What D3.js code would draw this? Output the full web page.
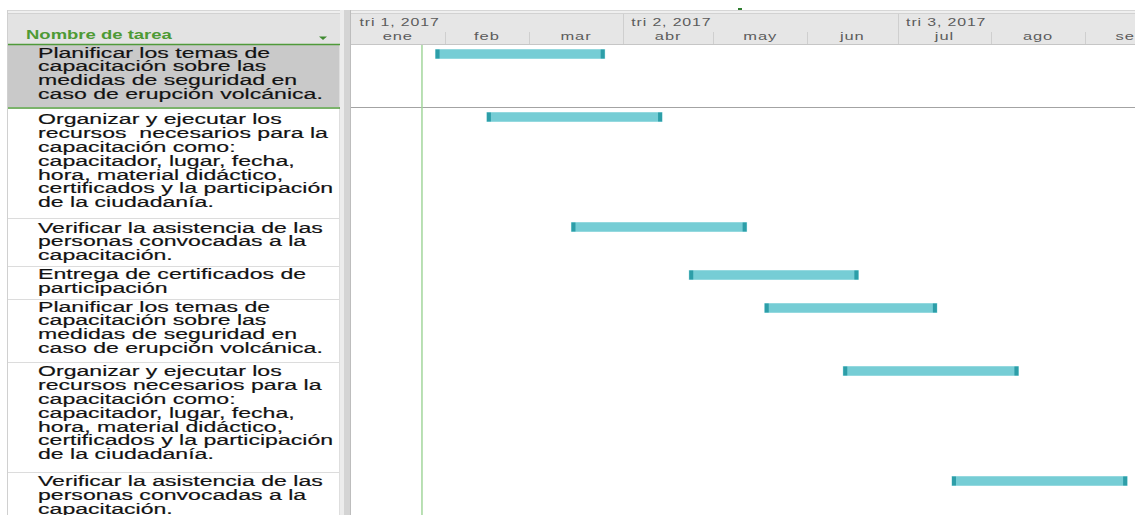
<!DOCTYPE html>
<html>
<head>
<meta charset="utf-8">
<script src="https://cdn.jsdelivr.net/npm/d3@7"></script>
<style>
  html, body { margin: 0; padding: 0; background: #fff; overflow: hidden; }
  svg { display: block; }
</style>
</head>
<body>
<svg id="gantt" width="1135" height="515"></svg>
<script>
// ---- Data -------------------------------------------------------------
const taskNames = [
  ["Planificar los temas de", "capacitación sobre las", "medidas de seguridad en", "caso de erupción volcánica."],
  ["Organizar y ejecutar los", "recursos  necesarios para la", "capacitación como:", "capacitador, lugar, fecha,", "hora, material didáctico,", "certificados y la participación", "de la ciudadanía."],
  ["Verificar la asistencia de las", "personas convocadas a la", "capacitación."],
  ["Entrega de certificados de", "participación"],
  ["Planificar los temas de", "capacitación sobre las", "medidas de seguridad en", "caso de erupción volcánica."],
  ["Organizar y ejecutar los", "recursos necesarios para la", "capacitación como:", "capacitador, lugar, fecha,", "hora, material didáctico,", "certificados y la participación", "de la ciudadanía."],
  ["Verificar la asistencia de las", "personas convocadas a la", "capacitación."]
];
const taskStarts = ["2017-01-29", "2017-02-15", "2017-03-15", "2017-04-23", "2017-05-18", "2017-06-13", "2017-07-19"];
const taskEnds   = ["2017-03-26", "2017-04-14", "2017-05-12", "2017-06-18", "2017-07-14", "2017-08-10", "2017-09-15"];
const monthLabels = ["ene", "feb", "mar", "abr", "may", "jun", "jul", "ago", "sep"];
const quarterLabels = ["tri 1, 2017", "tri 2, 2017", "tri 3, 2017"];
const headerTitle = "Nombre de tarea";
const todayDate = "2017-01-24T12:00:00Z";

// ---- Layout -----------------------------------------------------------
const W = 1135, H = 515;
const panelLeft = 8, panelRight = 341, chartLeft = 351;
const headerTop = 14, headerBottom = 44.5;
const rowHeights = [63, 110, 48, 33, 63, 110, 60];
const firstBaseline = [12.5, 16, 14.5, 13, 12.5, 14, 14];
const lineStep = 13.9;
const textScaleX = 1.49;
const pxPerDay = 3.02;

const rowTops = [];
rowHeights.reduce((acc, h) => { rowTops.push(acc); return acc + h; }, 45);

const parse = s => new Date(s.length > 10 ? s : s + "T00:00:00Z");
const t0 = parse("2017-01-01"), t1 = parse("2017-10-01");
const x = d3.scaleUtc()
  .domain([t0, t1])
  .range([chartLeft, chartLeft + d3.utcDay.count(t0, t1) * pxPerDay]);

const svg = d3.select("#gantt");

// ---- Frame: top strip and header backgrounds ---------------------------
svg.append("rect").attr("x", panelLeft).attr("y", 10).attr("width", W - panelLeft).attr("height", 4).attr("fill", "#efefef");
svg.append("line").attr("x1", panelLeft).attr("x2", W).attr("y1", 10.5).attr("y2", 10.5).attr("stroke", "#d6d6d6");
svg.append("line").attr("x1", panelLeft).attr("x2", W).attr("y1", 13.5).attr("y2", 13.5).attr("stroke", "#d2d2d2");
svg.append("rect").attr("x", 738).attr("y", 8).attr("width", 4).attr("height", 2).attr("fill", "#2f7d2f");

svg.append("rect").attr("x", panelLeft).attr("y", headerTop).attr("width", panelRight - panelLeft).attr("height", 30).attr("fill", "#e3e3e3");
svg.append("rect").attr("x", chartLeft).attr("y", headerTop).attr("width", W - chartLeft).attr("height", 30).attr("fill", "#e6e6e6");
svg.append("line").attr("x1", chartLeft).attr("x2", W).attr("y1", headerBottom).attr("y2", headerBottom).attr("stroke", "#c6c6c6");

// ---- Left task table --------------------------------------------------
svg.append("rect").attr("x", panelLeft).attr("y", rowTops[0]).attr("width", panelRight - panelLeft).attr("height", rowHeights[0] - 1).attr("fill", "#c9c9c9");

// row separators
svg.append("g").selectAll("line")
  .data(rowTops.slice(2))
  .join("line")
  .attr("x1", panelLeft).attr("x2", 344)
  .attr("y1", d => d + 0.5).attr("y2", d => d + 0.5)
  .attr("stroke", "#dcdcdc");

svg.append("line").attr("x1", 339.5).attr("x2", 339.5).attr("y1", 45).attr("y2", H).attr("stroke", "#dedede");
svg.append("line").attr("x1", 7.5).attr("x2", 7.5).attr("y1", 10).attr("y2", H).attr("stroke", "#d0d0d0");

// green header and selection borders
svg.append("line").attr("x1", panelLeft).attr("x2", 343).attr("y1", 44.5).attr("y2", 44.5).attr("stroke", "#4f9a3a").attr("stroke-width", 1.5);
svg.append("line").attr("x1", panelLeft).attr("x2", 343).attr("y1", rowTops[1]).attr("y2", rowTops[1]).attr("stroke", "#4f9a3a").attr("stroke-width", 1.5);

// splitter between table and timeline
svg.append("rect").attr("x", 340).attr("y", 10).attr("width", 4).attr("height", H - 10).attr("fill", "#ececec");
svg.append("rect").attr("x", 344).attr("y", 10).attr("width", 6).attr("height", H - 10).attr("fill", "#d4d4d4");
svg.append("line").attr("x1", 350.5).attr("x2", 350.5).attr("y1", 10).attr("y2", H).attr("stroke", "#bdbdbd");

// header title
svg.append("text")
  .attr("transform", `translate(26,38.5) scale(1.445,1)`)
  .attr("font-family", "'Liberation Sans', Arial, sans-serif")
  .attr("font-size", 12.8).attr("font-weight", "bold")
  .attr("fill", "#4e9a35")
  .text(headerTitle);
svg.append("path").attr("d", "M319,36.5 L327,36.5 L323,40 Z").attr("fill", "#3f8a30");

// task labels
const labels = svg.append("g")
  .attr("font-family", "'Liberation Sans', Arial, sans-serif")
  .attr("font-size", 15.5)
  .attr("fill", "#111")
  .attr("stroke", "#222")
  .attr("stroke-width", 0.2);
labels.selectAll("text")
  .data(taskNames)
  .join("text")
  .attr("transform", (d, i) => `translate(38,${rowTops[i] + firstBaseline[i]}) scale(${textScaleX},1)`)
  .selectAll("tspan")
  .data(d => d)
  .join("tspan")
  .attr("x", 0)
  .attr("y", (d, j) => j * lineStep)
  .style("white-space", "pre")
  .text(d => d);

// ---- Timeline header --------------------------------------------------
const months = d3.utcMonth.range(t0, t1);
const quarters = d3.utcMonth.every(3).range(t0, d3.utcMonth.offset(t1, -1));
const headG = svg.append("g")
  .attr("font-family", "'Liberation Sans', Arial, sans-serif")
  .attr("font-size", 11)
  .attr("fill", "#5c5c5c")
  .attr("letter-spacing", 0.6);

headG.selectAll("line.m")
  .data(months.slice(1))
  .join("line")
  .attr("class", "m")
  .attr("x1", d => Math.round(x(d)) + 0.5).attr("x2", d => Math.round(x(d)) + 0.5)
  .attr("y1", 32).attr("y2", 44)
  .attr("stroke", "#cfcfcf");

headG.selectAll("line.q")
  .data(quarters.slice(1))
  .join("line")
  .attr("class", "q")
  .attr("x1", d => Math.round(x(d)) + 0.5).attr("x2", d => Math.round(x(d)) + 0.5)
  .attr("y1", 14).attr("y2", 44)
  .attr("stroke", "#cfcfcf");

headG.selectAll("text.m")
  .data(months)
  .join("text")
  .attr("class", "m")
  .attr("text-anchor", "middle")
  .attr("transform", d => `translate(${(x(d) + x(d3.utcMonth.offset(d, 1))) / 2},39.5) scale(1.5,1)`)
  .text((d, i) => monthLabels[i]);

headG.selectAll("text.q")
  .data(quarters)
  .join("text")
  .attr("class", "q")
  .attr("transform", d => `translate(${x(d) + 8.5},26) scale(1.445,1)`)
  .text((d, i) => quarterLabels[i]);

// ---- Chart body -------------------------------------------------------
svg.append("line").attr("x1", chartLeft).attr("x2", W).attr("y1", rowTops[1] - 0.5).attr("y2", rowTops[1] - 0.5).attr("stroke", "#a3a3a3");

// current date marker
svg.append("line")
  .attr("x1", x(parse(todayDate))).attr("x2", x(parse(todayDate)))
  .attr("y1", 45).attr("y2", H)
  .attr("stroke", "#a2d69b").attr("stroke-width", 1.5);

// task bars
const barH = 9, barOffset = 4.5, capW = 4;
const bars = svg.append("g").selectAll("g")
  .data(taskStarts.map((s, i) => ({ start: parse(s), end: parse(taskEnds[i]), row: i })))
  .join("g");
bars.append("rect")
  .attr("x", d => x(d.start) - 0.5)
  .attr("y", d => rowTops[d.row] + barOffset - 0.5)
  .attr("width", d => x(d.end) - x(d.start) + 1)
  .attr("height", barH + 1)
  .attr("fill", "#b5e4e8");
bars.append("rect")
  .attr("x", d => x(d.start))
  .attr("y", d => rowTops[d.row] + barOffset)
  .attr("width", d => x(d.end) - x(d.start))
  .attr("height", barH)
  .attr("fill", "#76cdd5");
bars.append("rect")
  .attr("x", d => x(d.start))
  .attr("y", d => rowTops[d.row] + barOffset)
  .attr("width", capW).attr("height", barH)
  .attr("fill", "#2d9ea8");
bars.append("rect")
  .attr("x", d => x(d.end) - capW)
  .attr("y", d => rowTops[d.row] + barOffset)
  .attr("width", capW).attr("height", barH)
  .attr("fill", "#2d9ea8");
</script>
</body>
</html>
